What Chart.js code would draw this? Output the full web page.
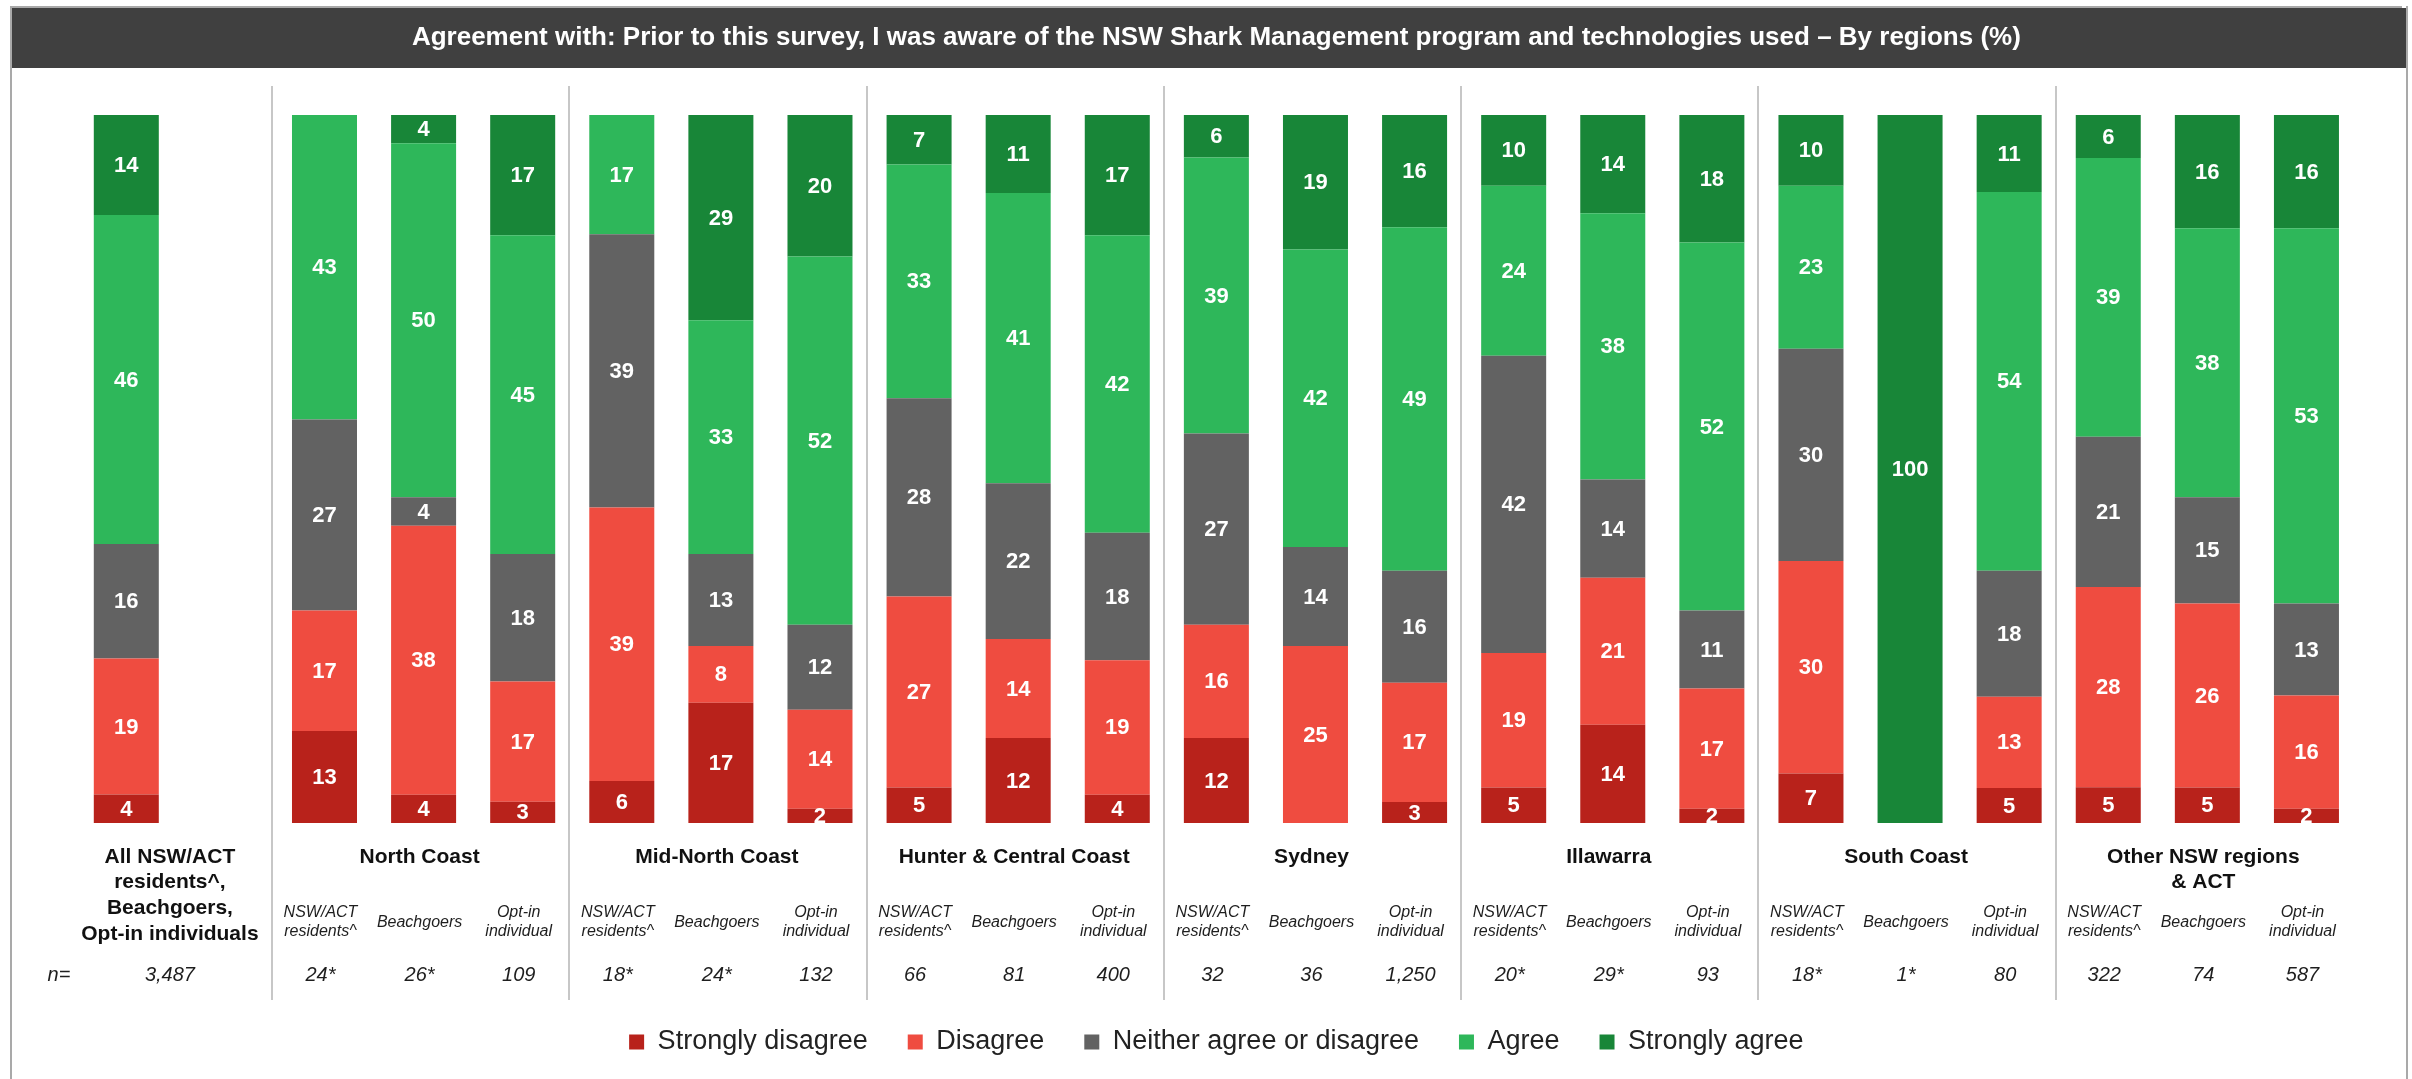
<!DOCTYPE html>
<html>
<head>
<meta charset="utf-8">
<script src="https://cdn.jsdelivr.net/npm/chart.js@4.4.1/dist/chart.umd.min.js"></script>
<style>
  html, body { margin: 0; padding: 0; background: #ffffff; }
  #wrap { width: 2412px; height: 1079px; }
</style>
</head>
<body>
<div id="wrap"><canvas id="c" width="2412" height="1079"></canvas></div>
<script>
// Shared font stack
const FONT = "'Liberation Sans', Arial, sans-serif";

const chartTitle = 'Agreement with: Prior to this survey, I was aware of the NSW Shark Management program and technologies used \u2013 By regions (%)';

// Group headings under the bars
const allLabelLines = ['All NSW/ACT', 'residents^,', 'Beachgoers,', 'Opt-in individuals'];
const regionLabelLines = [
  ['North Coast'],
  ['Mid-North Coast'],
  ['Hunter & Central Coast'],
  ['Sydney'],
  ['Illawarra'],
  ['South Coast'],
  ['Other NSW regions', '& ACT']
];
// Audience sub-labels repeated in each region
const audienceLines = [['NSW/ACT', 'residents^'], ['Beachgoers'], ['Opt-in', 'individual']];

// One slot per bar; slot 1 is a spacer between the total and the regions
const categories = [
  'All NSW/ACT residents^, Beachgoers, Opt-in individuals', '',
  'North Coast - NSW/ACT residents^', 'North Coast - Beachgoers', 'North Coast - Opt-in individual',
  'Mid-North Coast - NSW/ACT residents^', 'Mid-North Coast - Beachgoers', 'Mid-North Coast - Opt-in individual',
  'Hunter & Central Coast - NSW/ACT residents^', 'Hunter & Central Coast - Beachgoers', 'Hunter & Central Coast - Opt-in individual',
  'Sydney - NSW/ACT residents^', 'Sydney - Beachgoers', 'Sydney - Opt-in individual',
  'Illawarra - NSW/ACT residents^', 'Illawarra - Beachgoers', 'Illawarra - Opt-in individual',
  'South Coast - NSW/ACT residents^', 'South Coast - Beachgoers', 'South Coast - Opt-in individual',
  'Other NSW regions & ACT - NSW/ACT residents^', 'Other NSW regions & ACT - Beachgoers', 'Other NSW regions & ACT - Opt-in individual'
];

// Sample sizes (n=)
const sampleSizes = ['3,487', '',
  '24*', '26*', '109',
  '18*', '24*', '132',
  '66', '81', '400',
  '32', '36', '1,250',
  '20*', '29*', '93',
  '18*', '1*', '80',
  '322', '74', '587'];

// Responses (%), bottom to top of each stack
const stronglyDisagree = [4, null, 13, 4, 3, 6, 17, 2, 5, 12, 4, 12, 0, 3, 5, 14, 2, 7, 0, 5, 5, 5, 2];
const disagree         = [19, null, 17, 38, 17, 39, 8, 14, 27, 14, 19, 16, 25, 17, 19, 21, 17, 30, 0, 13, 28, 26, 16];
const neither          = [16, null, 27, 4, 18, 39, 13, 12, 28, 22, 18, 27, 14, 16, 42, 14, 11, 30, 0, 18, 21, 15, 13];
const agree            = [46, null, 43, 50, 45, 17, 33, 52, 33, 41, 42, 39, 42, 49, 24, 38, 52, 23, 0, 54, 39, 38, 53];
const stronglyAgree    = [14, null, 0, 4, 17, 0, 29, 20, 7, 11, 17, 6, 19, 16, 10, 14, 18, 10, 100, 11, 6, 16, 16];

const seriesNames  = ['Strongly disagree', 'Disagree', 'Neither agree or disagree', 'Agree', 'Strongly agree'];
const seriesValues = [stronglyDisagree, disagree, neither, agree, stronglyAgree];
const seriesColors = ['#B8221B', '#EF4C40', '#626262', '#2EB75A', '#188638'];

// Each bar is a 100% stack: segment heights are shares of the bar's total
const barTotals = categories.map((_, i) => seriesValues.reduce((s, arr) => s + (arr[i] || 0), 0));
const toShare = arr => arr.map((v, i) => (v === null || !barTotals[i]) ? null : v / barTotals[i] * 100);

const datasets = seriesNames.map((name, k) => ({
  label: name,
  data: toShare(seriesValues[k]),
  rawValues: seriesValues[k],
  backgroundColor: seriesColors[k],
  borderWidth: 0,
  stack: 'responses',
  barPercentage: 0.656,
  categoryPercentage: 1
}));

// Frame, dark heading band and separators
const framePlugin = {
  id: 'frame',
  beforeDraw(chart) {
    const ctx = chart.ctx;
    const W = chart.width, H = chart.height;
    ctx.save();
    ctx.fillStyle = '#ffffff';
    ctx.fillRect(0, 0, W, H);
    ctx.fillStyle = '#a9a9a9';
    ctx.fillRect(10, 6, W - 20, 2);
    ctx.fillRect(10, 6, 2, H - 6);
    ctx.fillRect(W - 6, 6, 2, H - 6);
    ctx.fillStyle = '#404040';
    const tb = chart.titleBlock;
    ctx.fillRect(12, tb.top, W - 18, 60);
    ctx.restore();
  }
};

const annotatePlugin = {
  id: 'annotate',
  afterDatasetsDraw(chart) {
    const ctx = chart.ctx;
    ctx.save();
    ctx.fillStyle = '#ffffff';
    ctx.font = 'bold 22px ' + FONT;
    ctx.textAlign = 'center';
    ctx.textBaseline = 'middle';
    chart.data.datasets.forEach((ds, di) => {
      const meta = chart.getDatasetMeta(di);
      meta.data.forEach((bar, i) => {
        const v = ds.rawValues[i];
        if (v === null || v === 0) return;
        ctx.fillText(String(v), bar.x, (bar.y + bar.base) / 2 + 1);
      });
    });
    ctx.restore();
  },
  afterDraw(chart) {
    const ctx = chart.ctx;
    const x = chart.scales.x;
    ctx.save();
    // vertical separators between groups
    ctx.strokeStyle = '#b4b4b4';
    ctx.lineWidth = 1.5;
    [1.5, 4.5, 7.5, 10.5, 13.5, 16.5, 19.5].forEach(p => {
      const px = Math.round(x.getPixelForValue(p)) - 3;
      ctx.beginPath();
      ctx.moveTo(px, 86);
      ctx.lineTo(px, 1000);
      ctx.stroke();
    });

    ctx.textAlign = 'center';
    ctx.textBaseline = 'middle';
    ctx.fillStyle = '#111111';

    // group headings
    ctx.font = 'bold 21px ' + FONT;
    const allX = x.getPixelForValue(0.44);
    allLabelLines.forEach((t, j) => ctx.fillText(t, allX, 857 + j * 25.7));
    regionLabelLines.forEach((lines, g) => {
      const cx = x.getPixelForValue(3 + g * 3) - 4;
      lines.forEach((t, j) => ctx.fillText(t, cx, 857 + j * 25.7));
    });

    // audience sub-labels
    ctx.fillStyle = '#1e1e1e';
    ctx.font = 'italic 16px ' + FONT;
    for (let i = 2; i < categories.length; i++) {
      const lines = audienceLines[(i - 2) % 3];
      const cx = x.getPixelForValue(i) - 4;
      if (lines.length === 1) {
        ctx.fillText(lines[0], cx, 923);
      } else {
        ctx.fillText(lines[0], cx, 913);
        ctx.fillText(lines[1], cx, 932);
      }
    }

    // sample sizes
    ctx.font = 'italic 20px ' + FONT;
    ctx.fillText('n=', x.getPixelForValue(-0.68), 975);
    sampleSizes.forEach((s, i) => {
      if (!s) return;
      const cx = i === 0 ? allX : x.getPixelForValue(i) - 4;
      ctx.fillText(s, cx, 975);
    });
    ctx.restore();
  }
};

new Chart(document.getElementById('c'), {
  type: 'bar',
  data: { labels: categories, datasets },
  options: {
    responsive: false,
    devicePixelRatio: 1,
    animation: false,
    events: [],
    layout: { padding: { left: 76.75, right: 56, top: 8, bottom: 13.5 } },
    scales: {
      x: {
        stacked: true,
        display: true,
        offset: true,
        grid: { display: false, drawTicks: false },
        border: { display: false },
        ticks: { display: false },
        afterFit(scale) { scale.height = 165.5; }
      },
      y: {
        stacked: true,
        display: false,
        min: 0,
        max: 100
      }
    },
    plugins: {
      tooltip: { enabled: false },
      title: {
        display: true,
        text: chartTitle,
        color: '#ffffff',
        font: { family: FONT, size: 26, weight: 'bold', lineHeight: 1.2 },
        padding: { top: 14.4, bottom: 61.4 }
      },
      legend: {
        position: 'bottom',
        labels: {
          color: '#222222',
          font: { family: FONT, size: 27 },
          boxWidth: 15,
          boxHeight: 15,
          padding: 40
        }
      }
    }
  },
  plugins: [framePlugin, annotatePlugin]
});
</script>
</body>
</html>
